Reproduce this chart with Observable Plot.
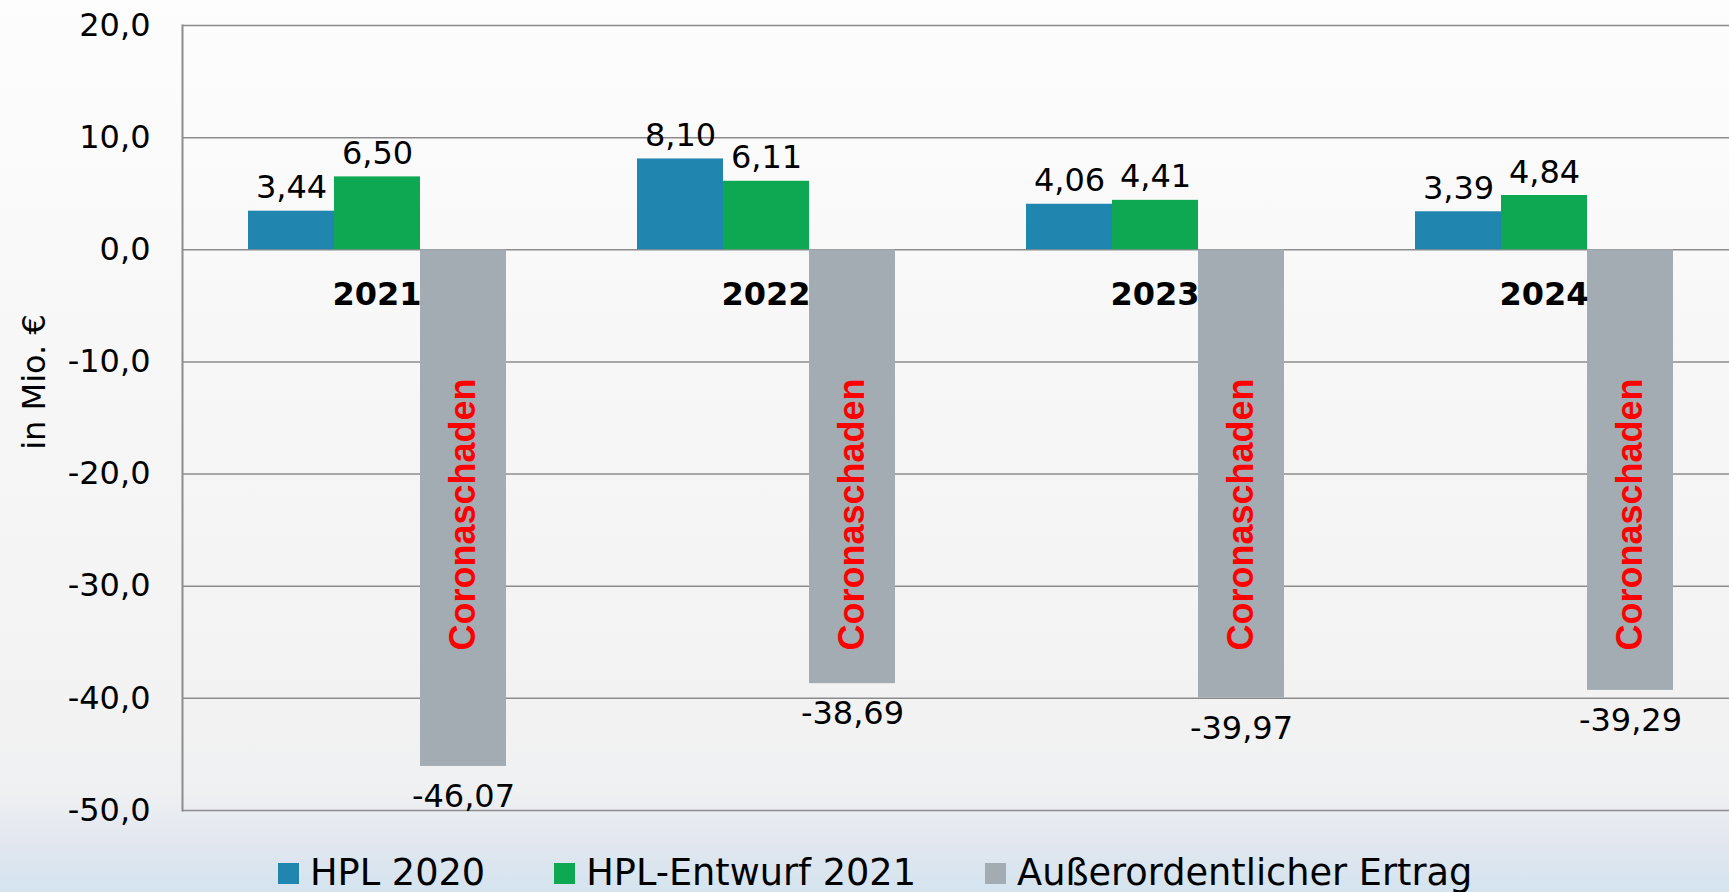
<!DOCTYPE html>
<html><head><meta charset="utf-8">
<script src="https://cdn.jsdelivr.net/npm/d3@7"></script>
<script src="https://cdn.jsdelivr.net/npm/@observablehq/plot@0.6"></script>
<style>
html,body{margin:0;padding:0;overflow:hidden;}
body{width:1729px;height:892px;background:linear-gradient(to bottom,#fdfdfd 0%,#f7f7f7 40%,#f2f2f2 82%,#eef0f2 89%,#e3e7ef 94%,#d4e4ef 100%);font-family:"DejaVu Sans",sans-serif;}
#chart svg{display:block;}
#legend{display:flex;align-items:center;height:37px;padding-top:10px;padding-left:278px;font-size:36.7px;line-height:1;color:#000;white-space:nowrap;}
.sw{width:21px;height:21px;margin-right:11px;flex:none;}
.item{display:flex;align-items:center;margin-right:69px;}
</style></head><body>
<div id="chart"></div><div id="legend"></div>
<script>
const years = ["2021", "2022", "2023", "2024"];
const seriesNames = ["HPL 2020", "HPL-Entwurf 2021", "Außerordentlicher Ertrag"];
const hpl2020 = [3.44, 8.10, 4.06, 3.39];
const hplEntwurf2021 = [6.50, 6.11, 4.41, 4.84];
const ausserordentlicherErtrag = [-46.07, -38.69, -39.97, -39.29];
const seriesColors = ["#2186af", "#0ea853", "#a2acb2"];
const yTicks = [20, 10, 0, -10, -20, -30, -40, -50];
const barNote = "Coronaschaden";
const barNoteAt = -23.6;
const yTitle = "in Mio. €";

const seriesValues = [hpl2020, hplEntwurf2021, ausserordentlicherErtrag];
const rows = years.flatMap((year, i) => seriesNames.map((series, s) => ({year, series, value: seriesValues[s][i]})));
const pos = rows.filter(d => d.value >= 0);
const neg = rows.filter(d => d.value < 0);
const fmt1 = d => d.toFixed(1).replace(".", ",");
const fmt2 = d => d.toFixed(2).replace(".", ",");

const chart = Plot.plot({
  width: 1729, height: 845,
  marginLeft: 181, marginRight: -10, marginTop: 25, marginBottom: 35,
  style: {background: "transparent", fontFamily: "DejaVu Sans", color: "#000", overflow: "hidden"},
  fx: {domain: years, padding: 0, axis: null},
  x: {domain: seriesNames, paddingInner: 0, paddingOuter: 0.75, axis: null},
  y: {domain: [-50, 20], axis: null},
  color: {domain: seriesNames, range: seriesColors},
  marks: [
    Plot.ruleY(yTicks, {stroke: "#8c8c8c", strokeWidth: 1.5}),
    Plot.frame({anchor: "left", fx: years[0], stroke: "#8c8c8c", strokeWidth: 2}),
    Plot.axisY({ticks: yTicks, tickSize: 0, tickPadding: 32, tickFormat: fmt1, fontSize: 32, label: null, fill: "#000"}),
    Plot.barY(rows, {fx: "year", x: "series", y: "value", fill: "series"}),
    Plot.text(pos, {fx: "year", x: "series", y: "value", text: d => fmt2(d.value), lineAnchor: "bottom", dy: -13, fontSize: 32, fill: "#000"}),
    Plot.text(neg, {fx: "year", x: "series", y: "value", text: d => fmt2(d.value), lineAnchor: "top", dy: 18, fontSize: 32, fill: "#000"}),
    Plot.text(years, {fx: d => d, y: () => 0, text: d => d, lineAnchor: "top", dy: 32, fontSize: 32, fontWeight: "bold", fill: "#000"}),
    Plot.text(neg, {fx: "year", x: "series", y: () => barNoteAt, text: () => barNote, rotate: -90, fill: "#ff0000", fontSize: 36, fontWeight: "bold", fontFamily: "Liberation Sans"}),
    Plot.text([yTitle], {fx: () => years[0], frameAnchor: "left", textAnchor: "middle", rotate: -90, dx: -148, dy: -36, fontSize: 32, fill: "#000"})
  ]
});
document.getElementById("chart").appendChild(chart);

const legend = document.getElementById("legend");
seriesNames.forEach((name, i) => {
  const item = document.createElement("div");
  item.className = "item";
  const sw = document.createElement("div");
  sw.className = "sw";
  sw.style.background = seriesColors[i];
  const label = document.createElement("span");
  label.textContent = name;
  item.appendChild(sw);
  item.appendChild(label);
  legend.appendChild(item);
});
</script>
</body></html>
